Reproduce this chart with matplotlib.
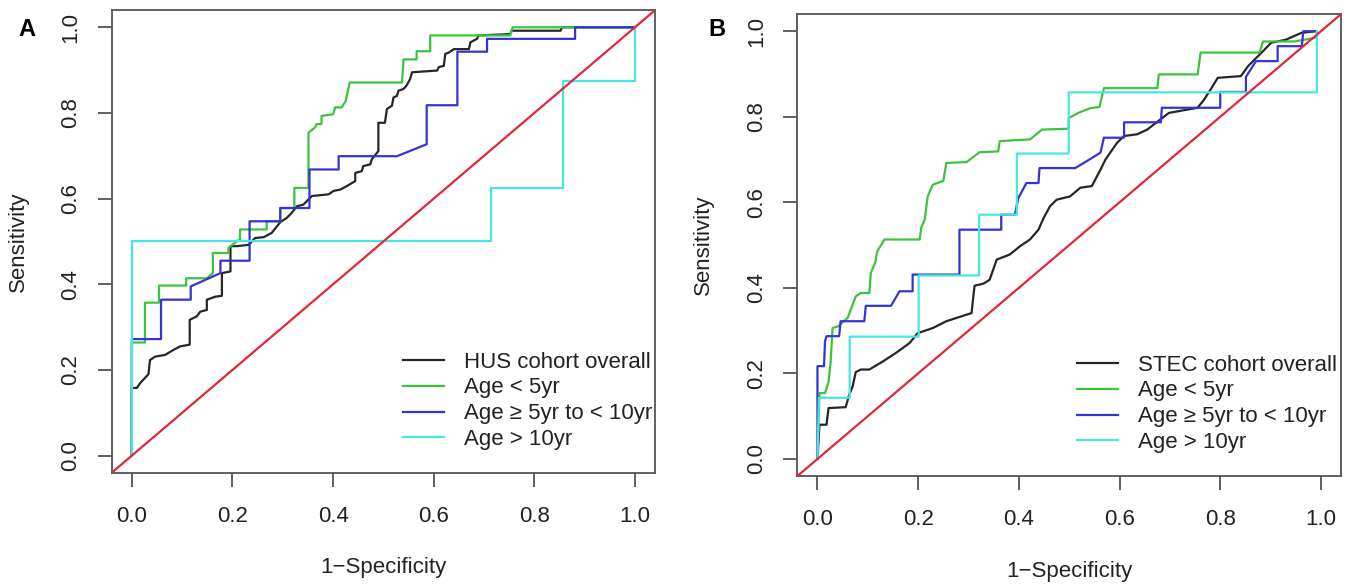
import matplotlib
matplotlib.use("Agg")
import matplotlib.pyplot as plt

plt.rcParams['font.family'] = ['Liberation Sans', 'DejaVu Sans']

# ---- panel A : HUS cohort ----
a_all_fpr = [0, 0, 0.010, 0.017, 0.033, 0.036, 0.046, 0.066, 0.083, 0.096, 0.115, 0.115, 0.129, 0.136,
             0.149, 0.149, 0.166, 0.179, 0.179, 0.196, 0.196, 0.209, 0.232, 0.245, 0.262, 0.278, 0.295,
             0.308, 0.318, 0.328, 0.341, 0.351, 0.358, 0.391, 0.401, 0.414, 0.427, 0.444, 0.444, 0.457,
             0.460, 0.474, 0.477, 0.490, 0.490, 0.503, 0.507, 0.517, 0.520, 0.527, 0.530, 0.540, 0.546,
             0.553, 0.557, 0.607, 0.610, 0.620, 0.623, 0.630, 0.640, 0.670, 0.673, 0.686, 0.689, 0.752,
             0.755, 0.852, 0.855, 1.0]
a_all_tpr = [0, 0.158, 0.158, 0.170, 0.190, 0.223, 0.231, 0.235, 0.247, 0.255, 0.259, 0.317, 0.325, 0.336,
             0.340, 0.364, 0.371, 0.373, 0.426, 0.430, 0.489, 0.489, 0.492, 0.508, 0.510, 0.520, 0.545,
             0.555, 0.567, 0.582, 0.586, 0.598, 0.606, 0.610, 0.618, 0.621, 0.629, 0.641, 0.660, 0.664,
             0.676, 0.680, 0.692, 0.711, 0.777, 0.777, 0.809, 0.817, 0.836, 0.840, 0.852, 0.856, 0.864,
             0.879, 0.895, 0.899, 0.907, 0.910, 0.938, 0.941, 0.949, 0.949, 0.965, 0.973, 0.981, 0.984,
             0.992, 0.992, 1.0, 1.0]

a_lt5_fpr = [0, 0, 0.026, 0.026, 0.054, 0.054, 0.108, 0.108, 0.149, 0.161, 0.161, 0.192, 0.192, 0.205,
             0.215, 0.215, 0.268, 0.268, 0.295, 0.295, 0.323, 0.323, 0.351, 0.351, 0.364, 0.367, 0.377,
             0.377, 0.400, 0.404, 0.417, 0.425, 0.433, 0.537, 0.540, 0.566, 0.566, 0.593, 0.593, 0.752,
             0.757, 1.0]
a_lt5_tpr = [0, 0.264, 0.264, 0.357, 0.357, 0.397, 0.397, 0.414, 0.414, 0.426, 0.473, 0.473, 0.485, 0.497,
             0.505, 0.528, 0.528, 0.547, 0.547, 0.578, 0.578, 0.625, 0.625, 0.754, 0.766, 0.774, 0.774,
             0.793, 0.797, 0.813, 0.813, 0.828, 0.871, 0.871, 0.925, 0.925, 0.944, 0.944, 0.981, 0.981,
             1.0, 1.0]

a_5to10_fpr = [0, 0, 0.058, 0.058, 0.117, 0.117, 0.176, 0.176, 0.234, 0.234, 0.295, 0.295, 0.353, 0.353,
               0.411, 0.411, 0.527, 0.586, 0.586, 0.647, 0.647, 0.706, 0.706, 0.881, 0.881, 1.0]
a_5to10_tpr = [0, 0.272, 0.272, 0.364, 0.364, 0.395, 0.426, 0.455, 0.455, 0.547, 0.547, 0.578, 0.578, 0.668,
               0.668, 0.699, 0.699, 0.727, 0.818, 0.818, 0.943, 0.943, 0.973, 0.973, 1.0, 1.0]

a_gt10_fpr = [0, 0, 0.714, 0.714, 0.857, 0.857, 1.0, 1.0]
a_gt10_tpr = [0, 0.5, 0.5, 0.625, 0.625, 0.875, 0.875, 1.0]

# ---- panel B : STEC cohort ----
b_all_fpr = [0, 0.004, 0.018, 0.022, 0.056, 0.063, 0.070, 0.076, 0.086, 0.103, 0.130, 0.156, 0.183, 0.199,
             0.229, 0.256, 0.306, 0.312, 0.330, 0.342, 0.356, 0.382, 0.402, 0.422, 0.439, 0.449, 0.462,
             0.475, 0.502, 0.522, 0.545, 0.562, 0.572, 0.595, 0.609, 0.635, 0.655, 0.698, 0.717, 0.755,
             0.768, 0.781, 0.795, 0.841, 0.855, 0.888, 0.901, 0.930, 0.961, 0.990]
b_all_tpr = [0, 0.080, 0.080, 0.119, 0.121, 0.150, 0.170, 0.203, 0.209, 0.209, 0.228, 0.248, 0.271, 0.294,
             0.306, 0.322, 0.341, 0.405, 0.410, 0.419, 0.466, 0.478, 0.497, 0.513, 0.536, 0.563, 0.591,
             0.606, 0.614, 0.634, 0.638, 0.676, 0.700, 0.739, 0.755, 0.759, 0.770, 0.809, 0.813, 0.821,
             0.840, 0.864, 0.891, 0.895, 0.918, 0.957, 0.973, 0.980, 0.996, 1.0]

b_lt5_fpr = [0, 0.004, 0.015, 0.022, 0.026, 0.030, 0.041, 0.060, 0.076, 0.086, 0.103, 0.106, 0.115, 0.119,
             0.133, 0.203, 0.206, 0.213, 0.219, 0.229, 0.250, 0.256, 0.296, 0.322, 0.359, 0.362, 0.422,
             0.446, 0.499, 0.499, 0.520, 0.542, 0.560, 0.569, 0.675, 0.678, 0.755, 0.761, 0.878, 0.885,
             0.948, 0.990]
b_lt5_tpr = [0, 0.154, 0.154, 0.180, 0.224, 0.306, 0.310, 0.330, 0.380, 0.388, 0.388, 0.435, 0.460, 0.486,
             0.513, 0.513, 0.540, 0.560, 0.614, 0.641, 0.650, 0.692, 0.694, 0.717, 0.719, 0.743, 0.747,
             0.770, 0.772, 0.797, 0.810, 0.820, 0.823, 0.867, 0.867, 0.899, 0.899, 0.950, 0.950, 0.976,
             0.976, 0.985]

b_5to10_fpr = [0, 0, 0.013, 0.015, 0.018, 0.043, 0.046, 0.093, 0.096, 0.146, 0.163, 0.189, 0.189, 0.282,
               0.282, 0.365, 0.365, 0.392, 0.399, 0.415, 0.439, 0.441, 0.512, 0.540, 0.562, 0.569, 0.609,
               0.609, 0.682, 0.684, 0.800, 0.800, 0.851, 0.851, 0.871, 0.914, 0.914, 0.962, 0.965, 0.992]
b_5to10_tpr = [0, 0.217, 0.217, 0.275, 0.287, 0.287, 0.322, 0.322, 0.358, 0.358, 0.392, 0.392, 0.431, 0.431,
               0.536, 0.536, 0.571, 0.571, 0.610, 0.645, 0.645, 0.680, 0.680, 0.700, 0.716, 0.751, 0.751,
               0.787, 0.787, 0.821, 0.821, 0.858, 0.858, 0.893, 0.930, 0.930, 0.965, 0.965, 1.0, 1.0]

b_gt10_fpr = [0, 0.003, 0.064, 0.064, 0.201, 0.201, 0.321, 0.321, 0.396, 0.396, 0.499, 0.499, 0.992, 0.992]
b_gt10_tpr = [0, 0.143, 0.143, 0.286, 0.286, 0.429, 0.429, 0.571, 0.571, 0.714, 0.714, 0.857, 0.857, 1.0]

legend_a = ["HUS cohort overall", "Age < 5yr", "Age \u2265 5yr to < 10yr", "Age > 10yr"]
legend_b = ["STEC cohort overall", "Age < 5yr", "Age \u2265 5yr to < 10yr", "Age > 10yr"]
ticks = [0.0, 0.2, 0.4, 0.6, 0.8, 1.0]
tick_labels = ["0.0", "0.2", "0.4", "0.6", "0.8", "1.0"]

colors = ['#262626', '#3cc43c', '#3434d6', '#44e6e6']
red = '#e0283a'

fig = plt.figure(figsize=(13.56, 5.87), dpi=100)


def panel(rect, curves, labels, letter, letter_xy, leg_xy):
    ax = fig.add_axes(rect)
    for (fx, ty), c, lab in zip(curves, colors, labels):
        ax.plot(fx, ty, color=c, lw=1.6, label=lab)
    ax.plot([-0.04, 1.04], [-0.04, 1.04], color=red, lw=1.6, zorder=5)
    ax.set_xlim(-0.04, 1.04)
    ax.set_ylim(-0.04, 1.04)
    ax.set_xticks(ticks)
    ax.set_xticklabels(tick_labels)
    ax.set_yticks(ticks)
    ax.set_yticklabels(tick_labels, rotation=90, va='center')
    ax.tick_params(axis='both', length=10, width=1.2, color='#444444', labelsize=16, labelcolor='#222222')
    ax.tick_params(axis='x', pad=14)
    ax.tick_params(axis='y', pad=12)
    for s in ax.spines.values():
        s.set_color('#555555')
        s.set_linewidth(1.3)
    ax.set_xlabel("1\u2212Specificity", fontsize=16, color='#222222', va='center')
    ax.xaxis.set_label_coords(0.5, -0.206)
    ax.set_ylabel("Sensitivity", fontsize=16, color='#222222', va='center')
    ax.yaxis.set_label_coords(-0.172, 0.5)
    ax.legend(loc='upper left', bbox_to_anchor=leg_xy, frameon=False, fontsize=16,
              handlelength=1.85, handletextpad=0.9, labelspacing=0.22, borderpad=0, borderaxespad=0,
              labelcolor='#222222')
    fig.text(letter_xy[0], letter_xy[1], letter, fontsize=17, fontweight='bold', ha='center', va='center')
    return ax


panel([0.0824, 0.1947, 0.4007, 0.788],
      [(a_all_fpr, a_all_tpr), (a_lt5_fpr, a_lt5_tpr), (a_5to10_fpr, a_5to10_tpr), (a_gt10_fpr, a_gt10_tpr)],
      legend_a, "A", (27 / 1356, 1 - 29 / 587), (0.536, 0.262))
panel([0.588, 0.189, 0.401, 0.787],
      [(b_all_fpr, b_all_tpr), (b_lt5_fpr, b_lt5_tpr), (b_5to10_fpr, b_5to10_tpr), (b_gt10_fpr, b_gt10_tpr)],
      legend_b, "B", (717 / 1356, 1 - 30 / 587), (0.514, 0.263))

fig.savefig("out.png", dpi=100)
